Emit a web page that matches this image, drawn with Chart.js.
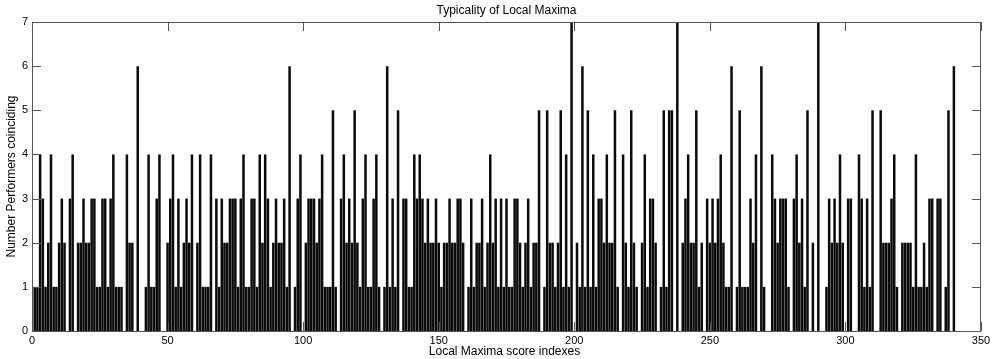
<!DOCTYPE html>
<html>
<head>
<meta charset="utf-8">
<script src="https://cdn.jsdelivr.net/npm/chart.js@4.4.0/dist/chart.umd.min.js"></script>
<style>
  html, body { margin: 0; padding: 0; background: #fff; }
  #wrap { width: 1004px; height: 359px; }
</style>
</head>
<body>
<div id="wrap"><canvas id="chart" width="1004" height="359"></canvas></div>
<script>
// number of performers whose local maxima coincide at each score index
const counts = [
  1,1,4,3,1,2,4,1,1,2,3,2,0,3,4,0,2,2,3,2,2,3,3,1,1,3,3,1,3,
  4,1,1,1,0,4,2,2,0,6,0,0,1,4,1,1,3,4,0,0,2,3,4,1,3,1,2,3,
  2,4,0,2,4,1,1,1,4,0,3,1,3,2,2,3,3,3,1,3,4,1,1,3,3,1,4,2,4,3,
  1,2,3,2,2,3,1,6,0,1,3,4,0,2,3,3,3,2,3,4,1,1,1,5,1,0,3,4,2,3,
  2,5,2,1,3,4,1,1,3,4,1,0,1,6,1,3,1,5,0,3,3,1,1,4,3,4,3,2,3,
  2,2,3,2,1,2,2,3,2,2,3,3,2,0,1,3,1,2,2,3,1,2,4,2,3,1,3,1,3,
  1,1,3,3,2,1,2,3,1,2,2,5,0,1,5,2,2,1,2,5,1,4,1,7,0,2,1,6,1,5,
  1,4,1,3,3,2,4,2,2,5,1,0,4,2,1,5,2,1,0,2,4,1,3,3,2,0,1,5,
  1,5,5,0,7,0,2,3,4,2,2,5,1,2,0,3,2,3,2,3,4,2,1,1,6,0,1,5,1,1,
  1,3,2,4,0,6,1,0,0,4,3,2,3,3,3,1,0,3,4,2,3,1,5,0,2,0,7,0,0,1,
  3,2,3,2,4,2,0,3,3,0,0,4,3,1,3,1,5,0,0,5,2,2,2,3,4,1,0,2,2,2,
  2,1,4,1,1,2,1,3,3,0,3,3,0,1,5,0,6
];
const indexes = counts.map((_, i) => i + 1);

const xTicks = [0, 50, 100, 150, 200, 250, 300, 350];
const yTicks = [0, 1, 2, 3, 4, 5, 6, 7];

const chartTitle = 'Typicality of Local Maxima';
const xTitle = 'Local Maxima score indexes';
const yTitle = 'Number Performers coinciding';

const FONT = '"Liberation Sans", Arial, Helvetica, sans-serif';

// matlab-like box with inward ticks on all four sides, plus titles
const axesBox = {
  id: 'axesBox',
  afterDatasetsDraw(chart) {
    const { ctx, chartArea: a, scales: { x, y } } = chart;
    ctx.save();
    ctx.strokeStyle = '#555';
    ctx.lineWidth = 1;
    ctx.strokeRect(a.left + 0.5, a.top + 0.5, a.right - a.left - 1, a.bottom - a.top);
    ctx.beginPath();
    yTicks.forEach(v => {
      const py = Math.round(y.getPixelForValue(v)) + 0.5;
      ctx.moveTo(a.left, py); ctx.lineTo(a.left + 9, py);
      ctx.moveTo(a.right, py); ctx.lineTo(a.right - 9, py);
    });
    xTicks.forEach(v => {
      const px = Math.round(x.getPixelForValue(v)) + 0.5;
      ctx.moveTo(px, a.top); ctx.lineTo(px, a.top + 9);
      ctx.moveTo(px, a.bottom); ctx.lineTo(px, a.bottom - 9);
    });
    ctx.stroke();

    ctx.fillStyle = '#000';
    ctx.font = '12px ' + FONT;
    ctx.textAlign = 'center';
    ctx.textBaseline = 'middle';
    const cx = (a.left + a.right) / 2;
    ctx.fillText(chartTitle, cx, 11);
    ctx.fillText(xTitle, cx - 2, 352);
    ctx.translate(12, (a.top + a.bottom) / 2);
    ctx.rotate(-Math.PI / 2);
    ctx.fillText(yTitle, 0, 0);
    ctx.restore();
  }
};

new Chart(document.getElementById('chart'), {
  type: 'bar',
  data: {
    datasets: [{
      data: indexes.map((ix, i) => ({ x: ix, y: counts[i] })),
      backgroundColor: '#0b0b0b',
      borderWidth: 0,
      barPercentage: 0.93,
      categoryPercentage: 1
    }]
  },
  options: {
    responsive: false,
    animation: false,
    devicePixelRatio: 1,
    layout: { padding: { top: 22, right: 23, left: 0, bottom: 0 } },
    plugins: { legend: { display: false }, tooltip: { enabled: false } },
    scales: {
      x: {
        type: 'linear',
        min: 0,
        max: 350,
        offset: false,
        afterFit: s => { s.height = 28; },
        afterBuildTicks: s => { s.ticks = xTicks.map(v => ({ value: v })); },
        grid: { display: false, drawTicks: false, offset: false },
        border: { display: false },
        ticks: { color: '#000', font: { size: 11, family: FONT }, padding: 3, maxRotation: 0, autoSkip: false }
      },
      y: {
        min: 0,
        max: 7,
        afterFit: s => { s.width = 32; },
        afterBuildTicks: s => { s.ticks = yTicks.map(v => ({ value: v })); },
        grid: { display: false, drawTicks: false },
        border: { display: false },
        ticks: { color: '#000', font: { size: 11, family: FONT }, padding: 4 }
      }
    }
  },
  plugins: [axesBox]
});
</script>
</body>
</html>
